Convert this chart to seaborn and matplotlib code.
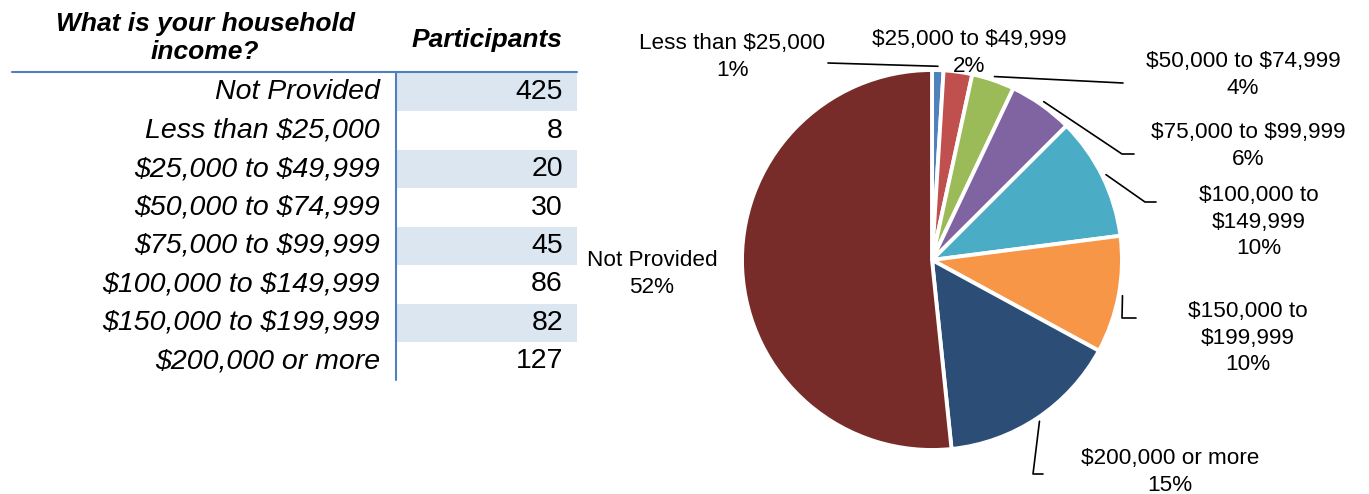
import numpy as np
import matplotlib
matplotlib.use("Agg")
import matplotlib.pyplot as plt
import seaborn as sns
from matplotlib.patches import Rectangle

# table data (table order)
income_groups = ["Not Provided", "Less than $25,000", "$25,000 to $49,999",
                 "$50,000 to $74,999", "$75,000 to $99,999",
                 "$100,000 to $149,999", "$150,000 to $199,999",
                 "$200,000 or more"]
participants = [425, 8, 20, 30, 45, 86, 82, 127]

# pie order (clockwise from 12 o'clock) and labels as printed on the chart
pie_order = [1, 2, 3, 4, 5, 6, 7, 0]
pie_names = ["Less than $25,000", "$25,000 to $49,999", "$50,000 to $74,999",
             "$75,000 to $99,999", "$100,000 to\n$149,999", "$150,000 to\n$199,999",
             "$200,000 or more", "Not Provided"]
pie_pct = ["1%", "2%", "4%", "6%", "10%", "10%", "15%", "52%"]
pie_colors = ["#4F81BD", "#C0504D", "#9BBB59", "#8064A2",
              "#4BACC6", "#F79646", "#2C4D75", "#772C2A"]

sns.set_style("white")
plt.rcParams["font.family"] = ["Liberation Sans", "DejaVu Sans"]
plt.rcParams["text.parse_math"] = False
plt.rcParams["text.color"] = "black"

W, H = 1369, 494
fig = plt.figure(figsize=(W / 100, H / 100), dpi=100)

# pie geometry in pixels
cx, cy, R = 932, 260, 190
half = 250
ax_pie = fig.add_axes([(cx - half) / W, (H - cy - half) / H, 2 * half / W, 2 * half / H])
pie_vals = [participants[i] for i in pie_order]
wedges, _ = ax_pie.pie(pie_vals, colors=pie_colors, startangle=90, counterclock=False,
                       radius=1, wedgeprops=dict(edgecolor="white", linewidth=2.8))
lim = half / R
ax_pie.set_xlim(-lim, lim)
ax_pie.set_ylim(-lim, lim)
ax_pie.set_aspect("equal")
ax_pie.axis("off")

# overlay axes in pixel coordinates
ax = fig.add_axes([0, 0, 1, 1])
ax.set_xlim(0, W)
ax.set_ylim(H, 0)
ax.patch.set_alpha(0)
ax.axis("off")

# ---- table ----
blue = "#4F81BD"
pitch = 38.43
top0 = 73
for i, (name, n) in enumerate(zip(income_groups, participants)):
    top = top0 + pitch * i
    if i % 2 == 0:
        ax.add_patch(Rectangle((397, top), 180, pitch, color="#DCE6F1", lw=0))
    ax.text(380, top + pitch / 2, name, ha="right", va="center", fontsize=20.5,
            style="italic")
    ax.text(563, top + pitch / 2, str(n), ha="right", va="center", fontsize=20.5)

ax.plot([12, 577], [72, 72], color=blue, lw=1.5)
ax.plot([396, 396], [72, 380], color=blue, lw=1.5)
ax.text(205, 38, "What is your household\nincome?", ha="center", va="center",
        fontsize=19, style="italic", weight="bold", linespacing=1.25)
ax.text(487, 40, "Participants", ha="center", va="center", fontsize=19,
        style="italic", weight="bold")

# ---- pie labels and leader lines ----
label_pos = [(732, 57), (969, 53), (1243, 75), (1248, 146),
             (1259, 222), (1248, 338), (1170, 472), (652, 274)]
elbows = [[(828, 63)], None, [(1123, 83)], [(1122, 154), (1134, 154)],
          [(1145, 202), (1156, 202)], [(1122, 318), (1136, 318)],
          [(1033, 474), (1043, 474)], None]

for w, name, pct, pos, elb in zip(wedges, pie_names, pie_pct, label_pos, elbows):
    mid = np.deg2rad((w.theta1 + w.theta2) / 2)
    ax.text(pos[0], pos[1], f"{name}\n{pct}", ha="center", va="center",
            fontsize=16.2, linespacing=1.35)
    if elb:
        sx = cx + 1.02 * R * np.cos(mid)
        sy = cy - 1.02 * R * np.sin(mid)
        xs = [sx] + [p[0] for p in elb]
        ys = [sy] + [p[1] for p in elb]
        ax.plot(xs, ys, color="black", lw=1.2)

fig.savefig("out.png", dpi=100)
